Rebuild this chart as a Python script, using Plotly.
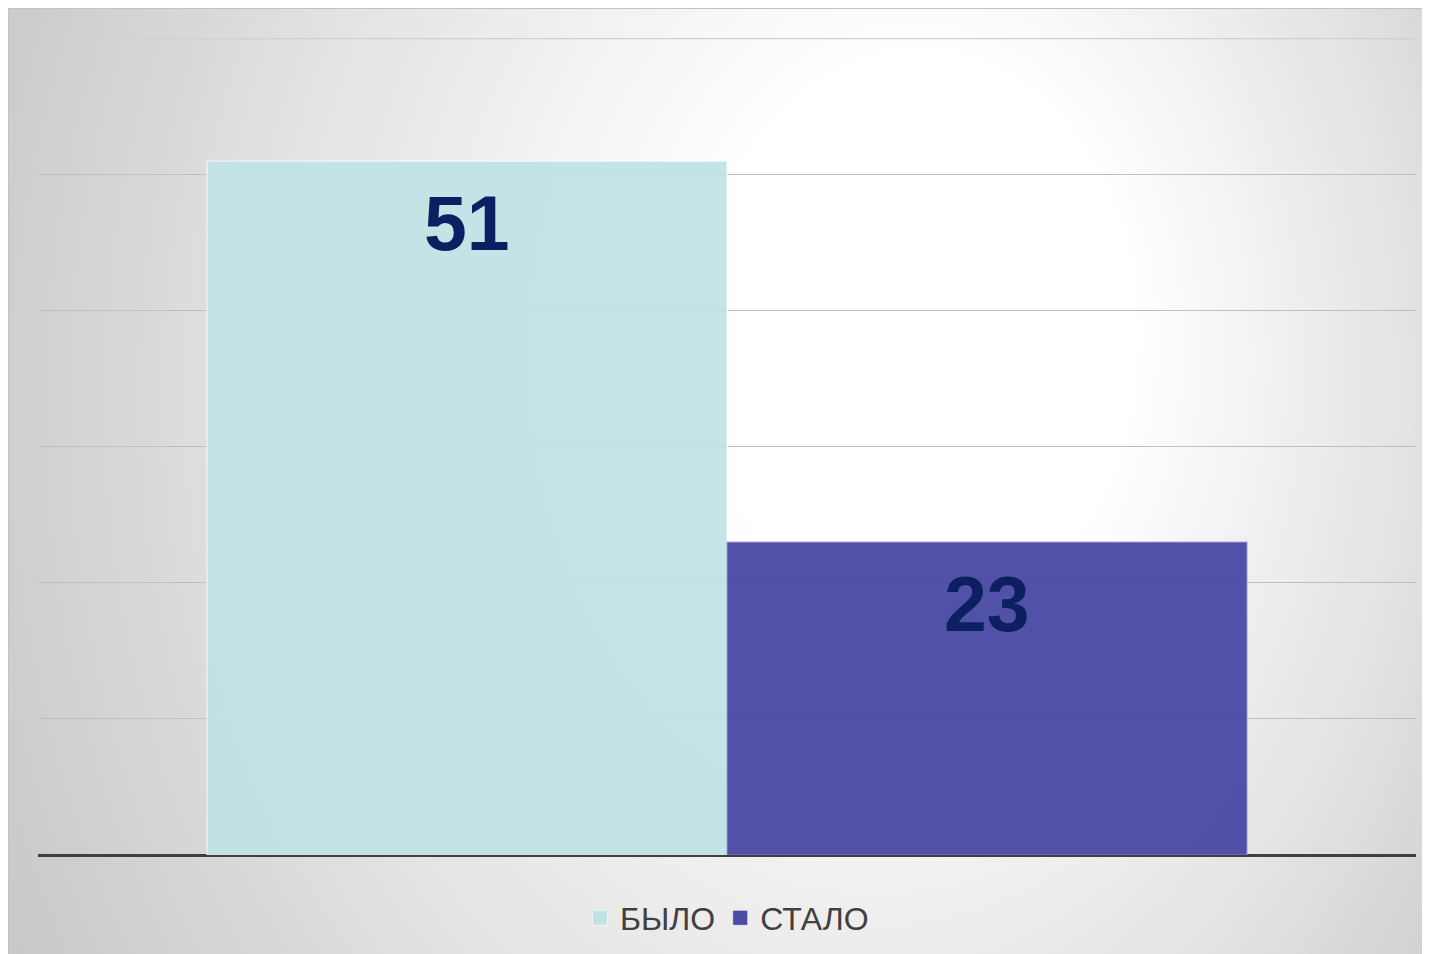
import base64
import plotly.graph_objects as go

series_names = ["БЫЛО", "СТАЛО"]
series_values = [51, 23]
series_colors = ["rgba(192,226,229,0.92)", "rgba(74,74,163,0.96)"]
legend_colors = ["#c2e3e6", "#4b4ca4"]
series_lines = ["rgba(255,255,255,0.7)", "rgba(150,150,210,0.8)"]
y_ticks = [0, 10, 20, 30, 40, 50, 60]

W, H = 1440, 962
L, R, T, B = 30, 32, 30, 115
pw, ph = W - L - R, H - T - B

fig = go.Figure()
for i, (name, val) in enumerate(zip(series_names, series_values)):
    fig.add_trace(go.Bar(
        x=[i], y=[val], name=name, width=1, showlegend=False,
        marker=dict(color=series_colors[i], line=dict(color=series_lines[i], width=1.2)),
        hoverinfo="skip",
    ))
    fig.add_trace(go.Scatter(
        x=[None], y=[None], name=name, mode="markers",
        marker=dict(symbol="square", size=15, color=legend_colors[i],
                    line=dict(color="rgba(255,255,255,0.6)", width=1)),
    ))
    fig.add_annotation(
        x=i, y=val, text=f"<b>{val}</b>", showarrow=False,
        yanchor="middle", yshift=-62,
        font=dict(family="Liberation Sans, Arial", size=77, color="#0c1f60"),
    )

# top gridline at the axis maximum
fig.add_shape(type="line", xref="paper", yref="y", x0=0, x1=1,
              y0=max(y_ticks), y1=max(y_ticks), layer="below",
              line=dict(color="#d0d0d0", width=1.2))

# background gradient (paper)
cx, cy = 740, 430
fx, fy = 960, 330
svg = f'''<svg xmlns="http://www.w3.org/2000/svg" width="{W}" height="{H}" viewBox="0 0 {W} {H}" preserveAspectRatio="none">
<defs><radialGradient id="g" gradientUnits="userSpaceOnUse" cx="{cx}" cy="{cy}" r="980" fx="{fx}" fy="{fy}" gradientTransform="translate({cx} {cy}) scale(1 1.3) translate({-cx} {-cy})">
<stop offset="0" stop-color="#ffffff"/>
<stop offset="0.22" stop-color="#ffffff"/>
<stop offset="0.40" stop-color="#f1f1f1"/>
<stop offset="0.58" stop-color="#e3e3e3"/>
<stop offset="0.70" stop-color="#d8d8d8"/>
<stop offset="0.80" stop-color="#cfcfcf"/>
<stop offset="0.90" stop-color="#c7c7c7"/>
<stop offset="1" stop-color="#c1c1c1"/>
</radialGradient></defs>
<rect x="0.5" y="0.5" width="{W-1}" height="{H-1}" fill="url(#g)" stroke="#c2c2c2" stroke-width="1"/>
</svg>'''
src = "data:image/svg+xml;base64," + base64.b64encode(svg.encode()).decode()
fig.add_layout_image(
    source=src, xref="paper", yref="paper",
    x=-L / pw, y=(H - B) / ph,
    sizex=W / pw, sizey=H / ph,
    xanchor="left", yanchor="top", sizing="stretch", layer="below",
)

fig.update_layout(
    width=W, height=H,
    margin=dict(l=L, r=R, t=T, b=B),
    paper_bgcolor="white", plot_bgcolor="rgba(0,0,0,0)",
    barmode="overlay",
    showlegend=True,
    legend=dict(
        orientation="h", x=0.5, xanchor="center", y=(H - B - 910) / ph, yanchor="middle",
        font=dict(family="Liberation Sans, Arial", size=32, color="#404040"),
        bgcolor="rgba(0,0,0,0)",
    ),
    xaxis=dict(range=[-0.825, 1.825], showticklabels=False, showgrid=False,
               zeroline=False, showline=False, fixedrange=True),
    yaxis=dict(range=[0, 60.05], tickvals=y_ticks, showticklabels=False,
               showgrid=True, gridcolor="#bfbfbf", gridwidth=1.2,
               zeroline=True, zerolinecolor="#404040", zerolinewidth=3,
               showline=False, fixedrange=True),
)

fig.write_html("out.html")
